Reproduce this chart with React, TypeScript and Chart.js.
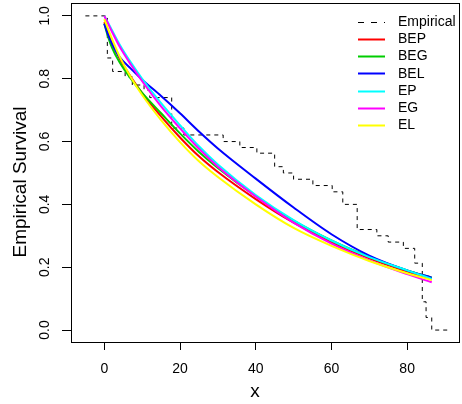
import React, { useEffect, useRef } from 'react';
import { Chart, registerables } from 'chart.js';

Chart.register(...registerables);

const FONT = "'Liberation Sans', Arial, Helvetica, sans-serif";

const X_TICKS = [0, 20, 40, 60, 80];
const Y_TICKS = [0, 0.2, 0.4, 0.6, 0.8, 1.0];

// Empirical survival (step function)
const EMP_X = [-5, 0.8, 2.2, 5.5, 7.4, 10.5, 12, 17.8, 21, 31.4, 35.8, 40.3, 45, 47.3, 50, 55.1, 60.2, 63, 66.8, 72, 75, 79, 82, 84, 85, 86.5, 91];
const EMP_Y = [1, 0.866, 0.823, 0.806, 0.78, 0.764, 0.74, 0.643, 0.621, 0.6, 0.581, 0.563, 0.52, 0.5, 0.48, 0.46, 0.44, 0.4, 0.32, 0.3, 0.28, 0.26, 0.213, 0.09, 0.04, 0, 0];

// Fitted survival curves
const CURVE_X = [0, 1, 2, 4, 7, 10, 15, 20, 25, 30, 40, 50, 60, 70, 80, 86.5];
const BEP = [0.98, 0.945, 0.915, 0.865, 0.806, 0.754, 0.68, 0.613, 0.553, 0.503, 0.417, 0.342, 0.28, 0.228, 0.186, 0.161];
const BEG = [0.975, 0.933, 0.9, 0.853, 0.8, 0.755, 0.69, 0.626, 0.567, 0.516, 0.426, 0.348, 0.285, 0.233, 0.19, 0.167];
const BEL = [0.975, 0.94, 0.912, 0.87, 0.832, 0.797, 0.745, 0.69, 0.632, 0.578, 0.482, 0.39, 0.305, 0.237, 0.19, 0.167];
const EP = [1.0, 0.978, 0.955, 0.91, 0.852, 0.8, 0.722, 0.652, 0.585, 0.527, 0.43, 0.35, 0.285, 0.232, 0.19, 0.163];
const EG = [1.0, 0.975, 0.95, 0.903, 0.845, 0.792, 0.712, 0.642, 0.577, 0.52, 0.425, 0.342, 0.275, 0.222, 0.178, 0.152];
const EL = [0.99, 0.958, 0.928, 0.872, 0.805, 0.748, 0.668, 0.598, 0.537, 0.487, 0.4, 0.325, 0.268, 0.22, 0.181, 0.159];

const SERIES_NAMES = ['Empirical', 'BEP', 'BEG', 'BEL', 'EP', 'EG', 'EL'];
const SERIES_COLORS = ['#000000', '#FF0000', '#00CD00', '#0000FF', '#00FFFF', '#FF00FF', '#FFFF00'];

const toPts = (xs: number[], ys: number[]) => xs.map((x, i) => ({ x, y: ys[i] }));

const framePlugin = {
  id: 'frameAndText',
  afterDraw(chart: any) {
    const { ctx, chartArea: a } = chart;
    ctx.save();
    ctx.strokeStyle = '#000';
    ctx.lineWidth = 1;
    ctx.setLineDash([]);
    ctx.strokeRect(a.left + 0.5, a.top + 0.5, a.right - a.left, a.bottom - a.top);

    // axis titles
    ctx.fillStyle = '#000';
    ctx.font = `19px ${FONT}`;
    ctx.textAlign = 'center';
    ctx.textBaseline = 'middle';
    ctx.fillText('x', 255, 392);
    ctx.save();
    ctx.translate(21, 182);
    ctx.rotate(-Math.PI / 2);
    ctx.fillText('Empirical Survival', 0, 0);
    ctx.restore();

    // legend
    ctx.font = `14px ${FONT}`;
    ctx.textAlign = 'left';
    const datasets = chart.data.datasets;
    for (let i = 0; i < datasets.length; i++) {
      const ds = datasets[i];
      const y = a.top + 18.7 + i * 17.2;
      ctx.save();
      ctx.strokeStyle = ds.borderColor;
      ctx.lineWidth = ds.borderWidth;
      ctx.setLineDash(ds.borderDash ? [6, 7] : []);
      ctx.beginPath();
      ctx.moveTo(a.right - 101, Math.round(y) + 0.5);
      ctx.lineTo(a.right - 74, Math.round(y) + 0.5);
      ctx.stroke();
      ctx.restore();
      ctx.fillStyle = '#000';
      ctx.fillText(ds.label, a.right - 61, y + 0.5);
    }
    ctx.restore();
  },
};

export default function App() {
  const ref = useRef<HTMLCanvasElement | null>(null);
  useEffect(() => {
    if (!ref.current) return;
    const curves = [BEP, BEG, BEL, EP, EG, EL];
    const datasets: any[] = [
      {
        label: SERIES_NAMES[0],
        data: toPts(EMP_X, EMP_Y),
        borderColor: SERIES_COLORS[0],
        borderWidth: 1,
        borderDash: [4, 4],
        stepped: 'before',
        pointRadius: 0,
        fill: false,
        order: 10,
      },
      ...curves.map((ys, i) => ({
        label: SERIES_NAMES[i + 1],
        data: toPts(CURVE_X, ys),
        borderColor: SERIES_COLORS[i + 1],
        borderWidth: 2,
        cubicInterpolationMode: 'monotone',
        pointRadius: 0,
        fill: false,
        order: 9 - i,
      })),
    ];
    const chart = new Chart(ref.current, {
      type: 'line',
      data: { datasets },
      options: {
        animation: false,
        responsive: false,
        devicePixelRatio: 1,
        layout: { padding: { top: 3, right: 3, left: 0, bottom: 0 } },
        plugins: { legend: { display: false }, tooltip: { enabled: false } },
        scales: {
          x: {
            type: 'linear',
            min: -8.8,
            max: 93.7,
            afterBuildTicks: (s: any) => { s.ticks = X_TICKS.map((v) => ({ value: v })); },
            afterFit: (s: any) => { s.height = 62; s.paddingLeft = 0; s.paddingRight = 0; },
            grid: { display: true, drawOnChartArea: false, drawTicks: true, tickLength: 8, color: '#000' },
            border: { display: false },
            ticks: {
              color: '#000',
              font: { family: FONT, size: 14 },
              padding: 11,
              maxRotation: 0,
              minRotation: 0,
              callback: (v: any) => String(v),
            },
          },
          y: {
            type: 'linear',
            min: -0.038,
            max: 1.041,
            afterBuildTicks: (s: any) => { s.ticks = Y_TICKS.map((v) => ({ value: v })); },
            afterFit: (s: any) => { s.width = 71; s.paddingTop = 0; s.paddingBottom = 0; },
            grid: { display: true, drawOnChartArea: false, drawTicks: true, tickLength: 9, color: '#000' },
            border: { display: false },
            ticks: {
              color: '#000',
              font: { family: FONT, size: 14 },
              padding: 7,
              minRotation: 90,
              maxRotation: 90,
              crossAlign: 'center',
              callback: (v: any) => Number(v).toFixed(1),
            },
          },
        },
      },
      plugins: [framePlugin],
    } as any);
    return () => chart.destroy();
  }, []);
  return (
    <div style={{ position: 'absolute', left: 0, top: 0, width: 462, height: 404, background: '#fff' }}>
      <canvas ref={ref} width={462} height={404} style={{ display: 'block' }} />
    </div>
  );
}
